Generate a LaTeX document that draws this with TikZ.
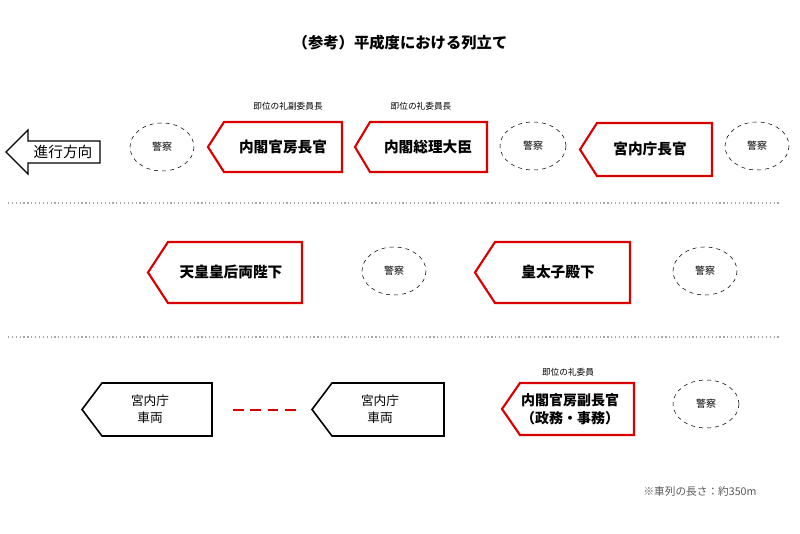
\documentclass[tikz,border=0pt]{standalone}
\usepackage{fontspec}
\setmainfont{Noto Sans CJK JP}
\begin{document}
\begin{tikzpicture}[x=0.75pt,y=-0.75pt,
 redbox/.style={draw=red!85!black,line width=1.6pt,fill=white},
 blkbox/.style={draw=black,line width=1.2pt},
 txt/.style={font=\fontsize{11pt}{14pt}\selectfont\bfseries,align=center},
 small/.style={font=\fontsize{6.5pt}{8pt}\selectfont},
 pol/.style={font=\fontsize{7.5pt}{9pt}\selectfont},
 sep/.style={gray!70,dotted,line width=0.9pt}]
\useasboundingbox (0,0) rectangle (800,534);
\newcommand{\pent}[6]{%
 \draw[#1] (#3,#5) -- (#4,#5) -- (#4,#6) -- (#3,#6) -- (#2,{(#5+#6)/2}) -- cycle;}
\node[font=\fontsize{11.5pt}{13pt}\selectfont\bfseries] (title) at (400,43) {（参考）平成度における列立て};
% direction arrow
\draw[line width=1pt] (6,152) -- (28,130) -- (28,141) -- (100,141) -- (100,163) -- (28,163) -- (28,174) -- cycle;
\node[font=\fontsize{11pt}{13pt}\selectfont] (dir) at (63,152) {進行方向};
% row 1
\pent{redbox}{208}{224}{342}{122}{172}
\node[txt] (a1) at (283,147) {内閣官房長官};
\node[small] (l1) at (288,106) {即位の礼副委員長};
\pent{redbox}{355}{370}{487}{122}{172}
\node[txt] (a2) at (428,147) {内閣総理大臣};
\node[small] (l2) at (421,106) {即位の礼委員長};
\pent{redbox}{580}{597}{712}{123}{176}
\node[txt] (a3) at (650,149) {宮内庁長官};
\draw[dashed] (162,147) ellipse (32 and 24);
\node[pol] (p1) at (162,147) {警察};
\draw[dashed] (533,146) ellipse (33 and 24);
\node[pol] (p2) at (533,146) {警察};
\draw[dashed] (757,146) ellipse (32 and 24);
\node[pol] (p3) at (757,146) {警察};
\draw[sep] (8,203) -- (780,203);
% row 2
\pent{redbox}{148}{168}{302}{242}{303}
\node[txt] (b1) at (231,272) {天皇皇后両陛下};
\pent{redbox}{475}{495}{630}{242}{303}
\node[txt] (b2) at (558,272) {皇太子殿下};
\draw[dashed] (394,271) ellipse (32 and 24);
\node[pol] (p4) at (394,271) {警察};
\draw[dashed] (705,271) ellipse (32 and 24);
\node[pol] (p5) at (705,271) {警察};
\draw[sep] (8,337) -- (780,337);
% row 3
\pent{blkbox}{82}{102}{212}{383}{436}
\node[font=\fontsize{9.5pt}{12.5pt}\selectfont,align=center] (c1) at (150,409) {宮内庁\\車両};
\draw[red!85!black,line width=1.6pt,dash pattern=on 8pt off 5pt] (233,410) -- (298,410);
\pent{blkbox}{312}{332}{444}{383}{436}
\node[font=\fontsize{9.5pt}{12.5pt}\selectfont,align=center] (c2) at (380,409) {宮内庁\\車両};
\pent{redbox}{502}{520}{634}{383}{435}
\node[txt,font=\fontsize{10.5pt}{13.5pt}\selectfont\bfseries] (c3) at (570,409) {内閣官房副長官\\（政務・事務）};
\node[small] (l3) at (568,372) {即位の礼委員};
\draw[dashed] (706,404) ellipse (33 and 24);
\node[pol] (p6) at (706,404) {警察};
\node[font=\fontsize{8pt}{10pt}\selectfont,gray!70!black] (note) at (700,491) {※車列の長さ：約350m};
\end{tikzpicture}
\end{document}
